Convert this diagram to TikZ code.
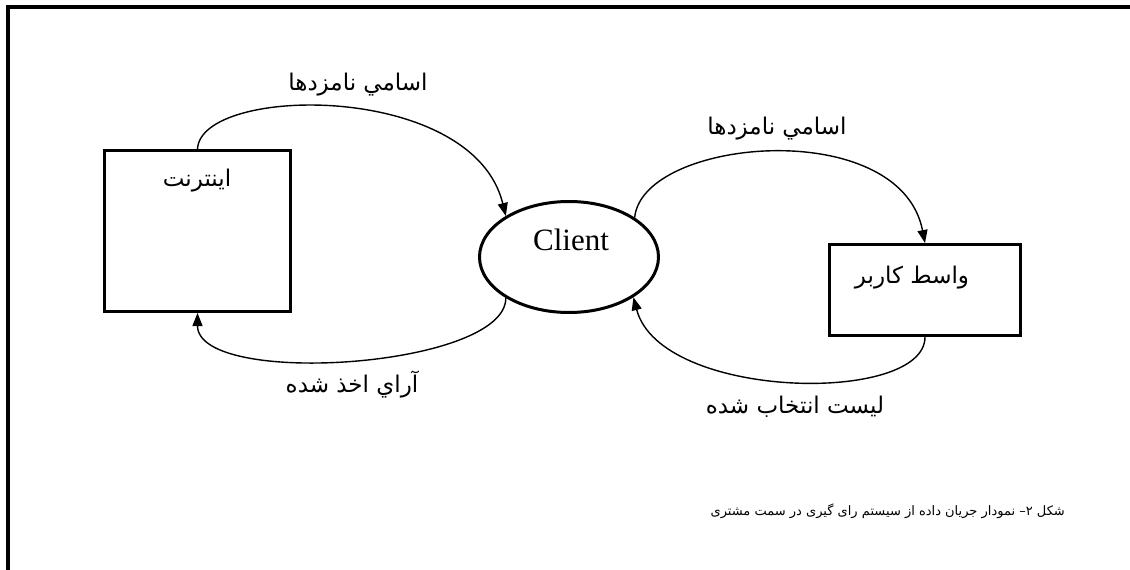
\documentclass[tikz,border=0pt]{standalone}
\usepackage{fontspec}
\setmainfont{Liberation Serif}
\newfontfamily\arabicfont[Script=Arabic]{DejaVu Sans}
\TeXXeTstate=1
\usetikzlibrary{arrows.meta,shapes.geometric}

\newcommand{\rtl}[1]{\arabicfont\beginR #1\endR}

\begin{document}
\begin{tikzpicture}[x=1pt,y=-1pt,
  entity/.style={draw, line width=3pt, rectangle, inner sep=0pt},
  process/.style={draw, line width=3pt, ellipse, inner sep=0pt,
    minimum width=179pt, minimum height=111pt},
  flow/.style={line width=1.4pt, -{Triangle[length=13pt,width=10pt]}},
  lbl/.style={inner sep=0pt, font=\fontsize{23}{26}\selectfont},
  captiontext/.style={inner sep=0pt, font=\fontsize{13}{16}\selectfont}]

\useasboundingbox (0,0) rectangle (1130,570);
\fill[white] (0,0) rectangle (1130,570);

% frame
\draw[line width=4pt] (8,580) -- (8,7) -- (1140,7);

% nodes
\node[entity, minimum width=186pt, minimum height=161pt] (inet) at (197.5,231) {};
\node[lbl] (inettxt) at (197,181) {\rtl{اينترنت}};

\node[process] (client) at (569,257) {};
\node[inner sep=0pt, font=\fontsize{31}{34}\selectfont] (clienttxt) at (571,240) {Client};

\node[entity, minimum width=191pt, minimum height=91pt] (ui) at (925,290) {};
\node[lbl] (uitxt) at (912,278) {\rtl{واسط كاربر}};

% flows
\draw[flow] (inet.north) .. controls +(3,-64) and +(-33,-135) .. (client.147);
\draw[flow] (client.31) .. controls +(8,-80) and +(-25,-128) .. (ui.north);
\draw[flow] (client.213) .. controls +(0,70) and +(0,75) .. (inet.south);
\draw[flow] (ui.south) .. controls +(0,68) and +(27,103) .. (client.328);

% flow labels
\node[lbl] (l1) at (358,85) {\rtl{اسامي نامزدها}};
\node[lbl] (l2) at (777,129) {\rtl{اسامي نامزدها}};
\node[lbl] (l3) at (352,385) {\rtl{آراي اخذ شده}};
\node[lbl] (l4) at (795,407) {\rtl{ليست انتخاب شده}};

% caption
\node[captiontext, anchor=east] (caption) at (1065,511) {\rtl{شکل ۲– نمودار جریان داده از سیستم رای گیری در سمت مشتری}};
\end{tikzpicture}
\end{document}
